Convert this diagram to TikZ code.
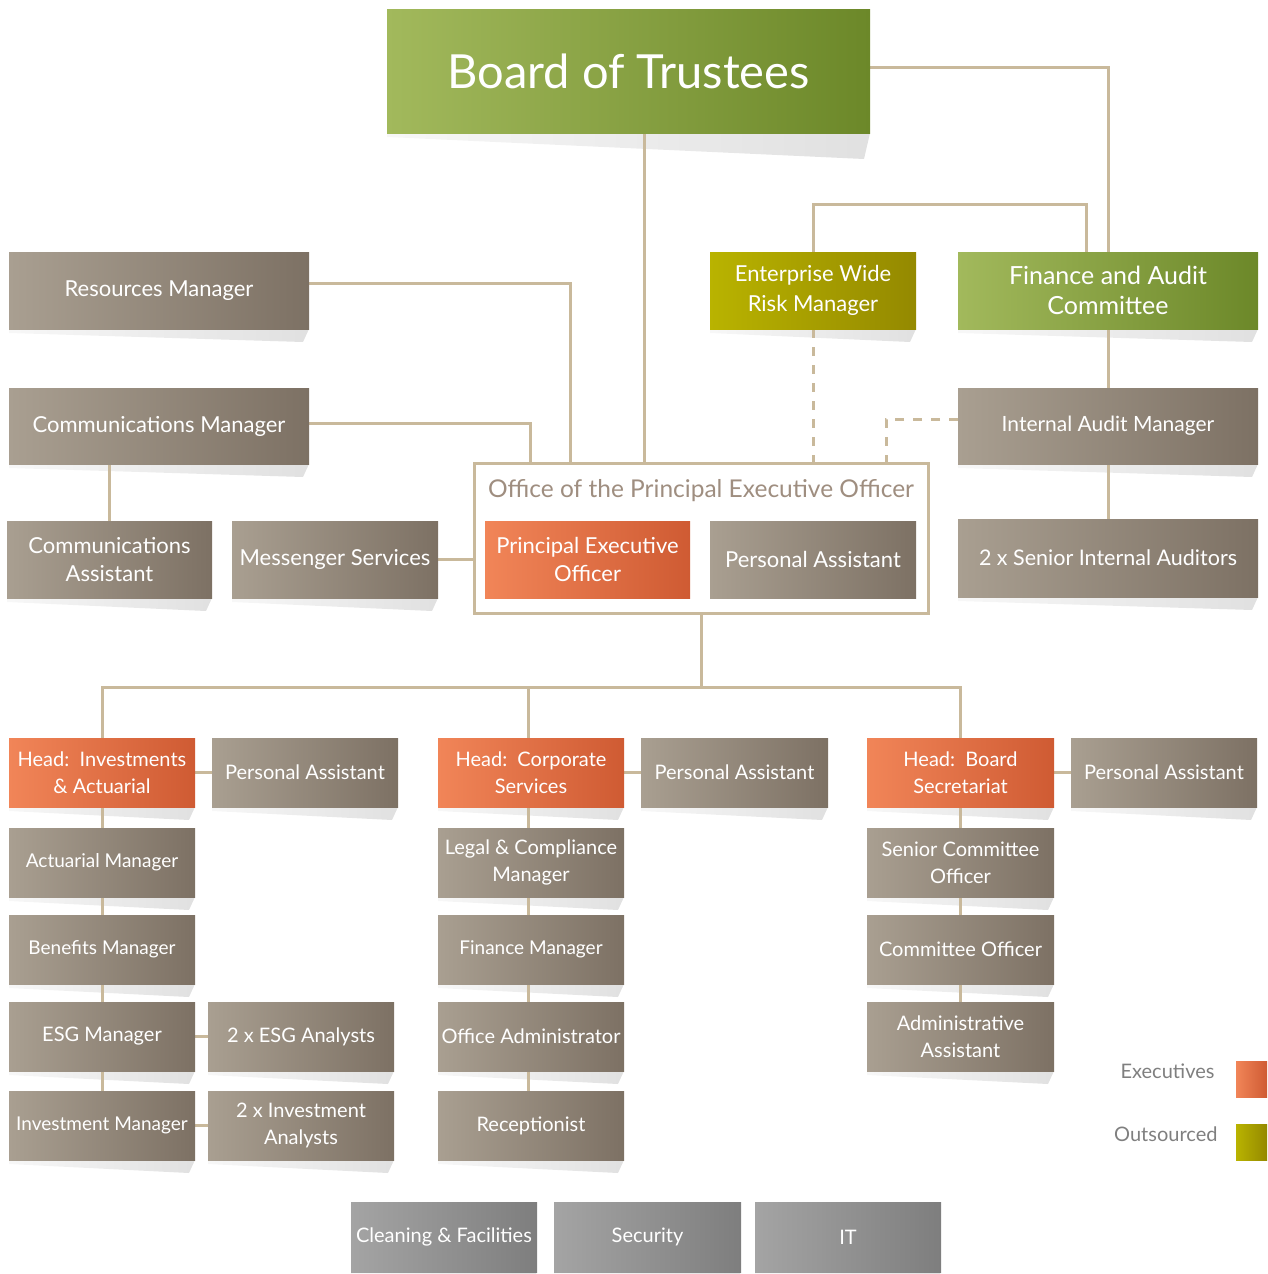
\documentclass[tikz,border=0pt]{standalone}
\usepackage{fontspec}
\setmainfont{Lato}
\pgfdeclarelayer{bg}
\pgfsetlayers{bg,main}
\definecolor{linec}{HTML}{C9B99B}
\definecolor{gbL}{HTML}{A99F91}
\definecolor{gbR}{HTML}{7D7164}
\definecolor{orL}{HTML}{F18558}
\definecolor{orR}{HTML}{CF5B33}
\definecolor{grL}{HTML}{A2B95C}
\definecolor{grR}{HTML}{6C8829}
\definecolor{yeL}{HTML}{B9B300}
\definecolor{yeR}{HTML}{948900}
\definecolor{svL}{HTML}{A4A4A4}
\definecolor{svR}{HTML}{7E7E7E}
\definecolor{titlec}{HTML}{9F8E80}
\definecolor{legc}{HTML}{7F7F7F}
\tikzset{
  box/.style={inner sep=0pt, outer sep=0pt, text=white, align=center, font=\fontsize{20}{27}\selectfont},
  big/.style={font=\fontsize{22}{28}\selectfont},
  sm/.style={font=\fontsize{19}{27}\selectfont},
  gb/.style={left color=gbL, right color=gbR},
  ex/.style={left color=orL, right color=orR},
  gr/.style={left color=grL, right color=grR},
  ye/.style={left color=yeL, right color=yeR},
  sv/.style={left color=svL, right color=svR},
  conn/.style={draw=linec, line width=3pt},
  dconn/.style={conn, dash pattern=on 9pt off 9pt},
}
\newcommand\bx[7]{%
  \pgfmathsetmacro\cx{(#3+#5)/2}\pgfmathsetmacro\cy{(#4+#6)/2}%
  \pgfmathsetmacro\bw{#5-#3}\pgfmathsetmacro\bh{#6-#4}%
  \pgfmathsetmacro\sd{\bw > 400 ? 26 : 13}%
  \begin{pgfonlayer}{bg}
  \shade[left color=black!3, right color=black!12] (#3,#6) -- (#5,#6) -- (#5-6,#6+\sd) -- (#3,#6+4) -- cycle;
  \end{pgfonlayer}
  \node[box,#2,minimum width=\bw pt,minimum height=\bh pt] (#1) at (\cx,\cy) {#7};}
\begin{document}
\begin{tikzpicture}[x=1pt,y=-1pt]
\useasboundingbox (0,0) rectangle (1267,1274);
% top
\bx{board}{gr,font=\fontsize{47}{56}\selectfont}{387}{9}{870}{133}{Board of Trustees}
\bx{res}{gb,big}{9}{252}{309}{329}{Resources Manager}
\bx{cm}{gb,big}{9}{388}{309}{464}{Communications Manager}
\bx{erm}{ye,font=\fontsize{22}{30}\selectfont}{710}{252}{916}{329}{Enterprise Wide\\Risk Manager}
\bx{fac}{gr,font=\fontsize{25}{30}\selectfont}{958}{252}{1258}{329}{Finance and Audit\\Committee}
\bx{iam}{gb,font=\fontsize{21}{27}\selectfont}{958}{388}{1258}{464}{Internal Audit Manager}
\bx{sia}{gb,font=\fontsize{21.5}{27}\selectfont}{958}{519}{1258}{597}{2 x Senior Internal Auditors}
\bx{ca}{gb,big}{7}{521}{212}{598}{Communications\\Assistant}
\bx{ms}{gb,big}{232}{521}{438}{598}{Messenger Services}
% office
\node[draw=linec, line width=3pt, fill=white, minimum width=454pt, minimum height=150pt, inner sep=0pt, outer sep=0pt] (office) at (701,538) {};
\node[text=titlec, font=\fontsize{24.5}{28}\selectfont] (otitle) at (701,491) {Office of the Principal Executive Officer};
\bx{peo}{ex,big}{485}{521}{690}{598}{Principal Executive\\Officer}
\bx{opa}{gb,big}{710}{521}{916}{598}{Personal Assistant}
% heads
\bx{h1}{ex}{9}{738}{195}{807}{Head:\ \ Investments\\\& Actuarial}
\bx{pa1}{gb}{212}{738}{398}{807}{Personal Assistant}
\bx{h2}{ex}{438}{738}{624}{807}{Head:\ \ Corporate\\Services}
\bx{pa2}{gb}{641}{738}{828}{807}{Personal Assistant}
\bx{h3}{ex}{867}{738}{1054}{807}{Head:\ \ Board\\Secretariat}
\bx{pa3}{gb}{1071}{738}{1257}{807}{Personal Assistant}
% column 1
\bx{am}{gb,sm}{9}{828}{195}{897}{Actuarial Manager}
\bx{bm}{gb,sm}{9}{915}{195}{984}{Benefits Manager}
\bx{esg}{gb}{9}{1002}{195}{1071}{ESG Manager}
\bx{im}{gb,sm}{9}{1091}{195}{1160}{Investment Manager}
\bx{esga}{gb}{208}{1002}{394}{1071}{2 x ESG Analysts}
\bx{ima}{gb}{208}{1091}{394}{1160}{2 x Investment\\Analysts}
% column 2
\bx{lcm}{gb}{438}{828}{624}{897}{Legal \& Compliance\\Manager}
\bx{fm}{gb,sm}{438}{915}{624}{984}{Finance Manager}
\bx{oa}{gb}{438}{1002}{624}{1071}{Office Administrator}
\bx{rec}{gb}{438}{1091}{624}{1160}{Receptionist}
% column 3
\bx{sco}{gb}{867}{828}{1054}{897}{Senior Committee\\Officer}
\bx{co}{gb}{867}{915}{1054}{984}{Committee Officer}
\bx{aa}{gb}{867}{1002}{1054}{1071}{Administrative\\Assistant}
% services
\bx{clean}{sv}{351}{1202}{537}{1272}{Cleaning \& Facilities}
\bx{sec}{sv}{554}{1202}{741}{1272}{Security}
\bx{it}{sv}{755}{1202}{941}{1272}{IT}
% legend
\node[inner sep=0pt, outer sep=0pt, minimum width=31pt, minimum height=36pt, left color=orL, right color=orR] (legex) at (1251.5,1079) {};
\node[inner sep=0pt, outer sep=0pt, minimum width=31pt, minimum height=36pt, left color=yeL, right color=yeR] (legout) at (1251.5,1142) {};
\node[anchor=east, text=legc, font=\fontsize{20}{24}\selectfont] (legext) at ([xshift=-18pt,yshift=8pt]legex.west) {Executives};
\node[anchor=east, text=legc, font=\fontsize{20}{24}\selectfont] (legoutt) at ([xshift=-15pt,yshift=8pt]legout.west) {Outsourced};
% connectors
\begin{pgfonlayer}{bg}
\draw[conn] ([yshift=4pt]board.east) -| (fac.north);
\draw[conn] ([xshift=16pt]board.south) -- ([xshift=16pt]board.south |- office.north);
\draw[conn] (erm.north) -- ++(0,-48) -| ([xshift=-22pt]fac.north);
\draw[conn] ([yshift=7pt]res.east) -| ([xshift=-131pt]office.north);
\draw[conn] ([yshift=3pt]cm.east) -| ([xshift=-171pt]office.north);
\draw[dconn] (erm.south) -- (erm.south |- office.north);
\draw[dconn] ([yshift=7pt]iam.west) -| ([xshift=185pt]office.north);
\draw[conn] (fac.south) -- (iam.north);
\draw[conn] (iam.south) -- (sia.north);
\draw[conn] (ca.north) -- (ca.north |- cm.south);
\draw[conn] (ms.east) -- (ms.east -| office.west);
\draw[conn] (office.south) -- ++(0,74) coordinate (hub);
\draw[conn] (hub) -| (h1.north);
\draw[conn] (hub) -| ([xshift=-3pt]h2.north);
\draw[conn] (hub) -| (h3.north);
\draw[conn] (h1.east) -- (pa1.west);
\draw[conn] (h2.east) -- (pa2.west);
\draw[conn] (h3.east) -- (pa3.west);
\draw[conn] (h1.south) -- (im.north);
\draw[conn] ([xshift=-3pt]h2.south) -- ([xshift=-3pt]rec.north);
\draw[conn] (h3.south) -- (aa.north);
\draw[conn] (esg.east) -- (esga.west);
\draw[conn] (im.east) -- (ima.west);
\end{pgfonlayer}
\end{tikzpicture}
\end{document}
